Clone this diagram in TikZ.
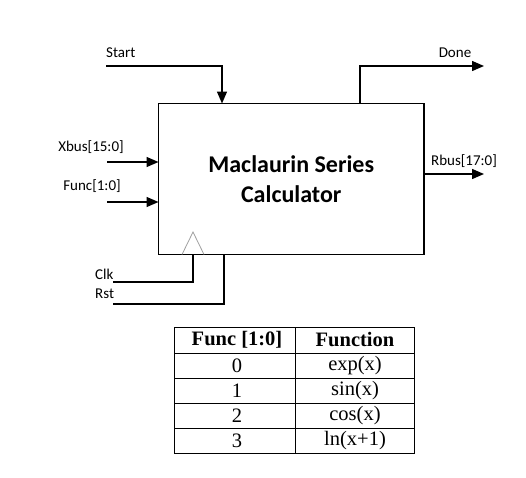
\documentclass[tikz,border=0pt]{standalone}
\usepackage{fontspec}
\setmainfont{Carlito}
\newfontfamily\tabfont{Liberation Serif}
\usetikzlibrary{arrows.meta}
\begin{document}
\begin{tikzpicture}[x=1pt,y=-1pt,
  wire/.style={line width=1.4pt,-{Triangle[length=12pt,width=10pt]}},
  plainwire/.style={line width=1.4pt},
  lbl/.style={font=\fontsize{15}{17}\selectfont,inner sep=0pt},
  cell/.style={font=\tabfont\fontsize{20.5}{22}\selectfont,inner sep=0pt},
  hcell/.style={font=\tabfont\bfseries\fontsize{20.5}{22}\selectfont,inner sep=0pt},
  grid/.style={line width=0.9pt}]
\useasboundingbox (0,0) rectangle (526,477);
% main block
\node[draw,line width=1.4pt,minimum width=265.5pt,minimum height=151pt,inner sep=0pt,
  align=center,font=\bfseries\fontsize{24}{30}\selectfont] (blk) at (291.25,179)
  {Maclaurin Series\\Calculator};
% labels
\node[lbl,anchor=west] (tstart) at (106,53) {Start};
\node[lbl] (tdone) at (455,53) {Done};
\node[lbl] (trbus) at (464,161) {Rbus[17:0]};
\node[lbl] (txbus) at (91,147) {Xbus[15:0]};
\node[lbl] (tfunc) at (92,186) {Func[1:0]};
\node[lbl,anchor=west] (tclk) at (95,274) {Clk};
\node[lbl,anchor=west] (trst) at (95,294) {Rst};
% wire ends
\coordinate (startend) at (106,66);
\coordinate (startin) at (222,103.5);
\coordinate (doneout) at (360,103.5);
\coordinate (doneend) at (484,66);
\coordinate (rbusout) at (424,174);
\coordinate (rbusend) at (484,174);
\coordinate (xbusend) at (107,162);
\coordinate (xbusin) at (158.5,162);
\coordinate (funcend) at (107,202);
\coordinate (funcin) at (158.5,202);
\coordinate (clkend) at (113,282);
\coordinate (clkin) at (193,254.5);
\coordinate (rstend) at (113,304);
\coordinate (rstin) at (224,254.5);
% wires
\draw[wire] (startend) -| (startin);
\draw[wire] (doneout) |- (doneend);
\draw[wire] (rbusout) -- (rbusend);
\draw[wire] (xbusend) -- (xbusin);
\draw[wire] (funcend) -- (funcin);
\draw[plainwire] (clkend) -| (clkin);
\draw[plainwire] (rstend) -| (rstin);
% clock triangle
\draw[gray!75,line width=0.8pt] (182,254.5) -- (193,232) -- (204,254.5);
% table
\draw[grid] (174,327) rectangle (414,453);
\draw[grid] (295,327) -- (295,453);
\draw[grid] (174,353) -- (414,353);
\draw[grid] (174,378) -- (414,378);
\draw[grid] (174,403) -- (414,403);
\draw[grid] (174,428) -- (414,428);
\node[hcell] (h1) at (237,340) {Func [1:0]};
\node[hcell] (h2) at (355,340) {Function};
\node[cell] (a1) at (237,365.5) {0};
\node[cell] (a2) at (355,365.5) {exp(x)};
\node[cell] (b1) at (237,390.5) {1};
\node[cell] (b2) at (355,390.5) {sin(x)};
\node[cell] (c1) at (237,415.5) {2};
\node[cell] (c2) at (355,415.5) {cos(x)};
\node[cell] (d1) at (237,440.5) {3};
\node[cell] (d2) at (355,440.5) {ln(x+1)};
\end{tikzpicture}
\end{document}
